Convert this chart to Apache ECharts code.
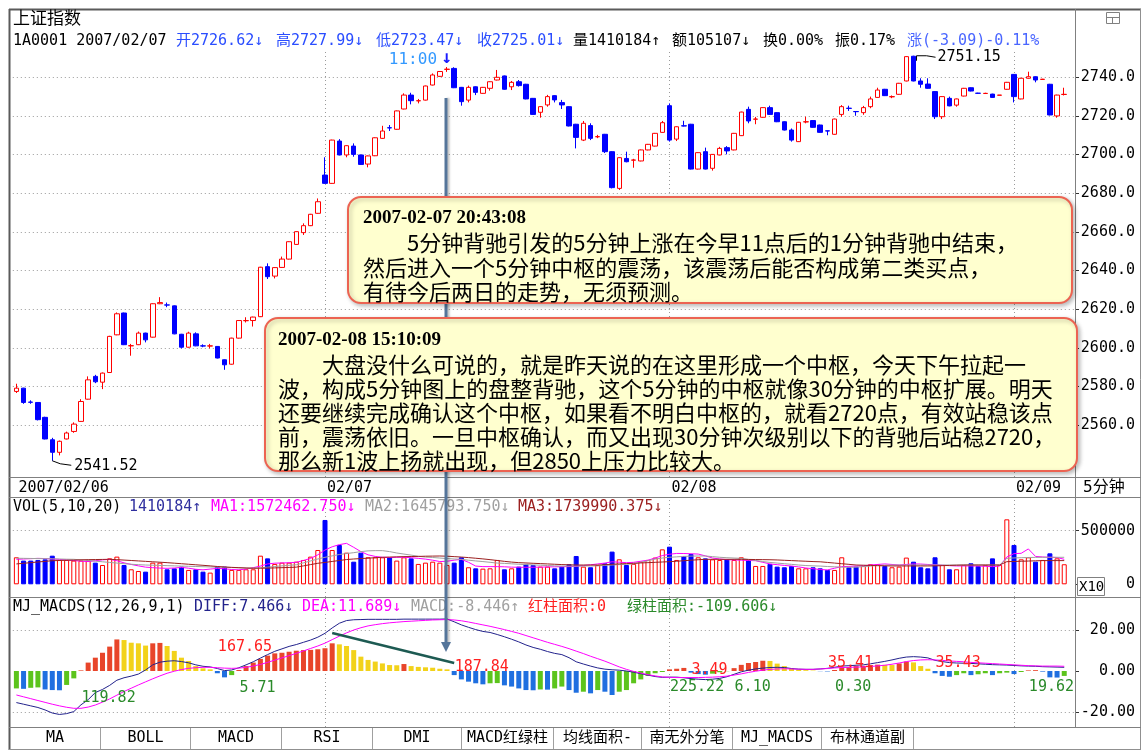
<!DOCTYPE html>
<html><head><meta charset="utf-8">
<script src="https://cdn.jsdelivr.net/npm/echarts@6/dist/echarts.min.js"></script>
<style>html,body{margin:0;padding:0;background:#fff;}#c{width:1146px;height:753px;}</style>
</head><body><div id="c"></div>
<script>
// ---------------- data ----------------
const days = ['02/06','02/07','02/08','02/09'];
const dayLabels = ['2007/02/06','02/07','02/08','02/09'];
const dayFirstBar = [5,0,0,0];      // first 5-min bar shown of each day
const dayBarCount = [43,48,48,8];   // bars shown of each day

const opens = [
2577.4,2579.1,2571.9,2571.7,2564.0,2552.4,2545.9,2552.8,2556.7,2561.9,
2573.4,2585.2,2582.2,2587.2,2606.7,2618.0,2601.0,2601.6,2607.6,2605.5,
2622.8,2622.2,2621.7,2607.0,2600.3,2607.2,2601.0,2600.9,2600.7,2593.8,
2591.5,2605.0,2614.0,2614.1,2616.1,2642.0,2637.1,2641.6,2645.9,2653.5,
2659.6,2663.2,2669.6,2689.4,2685.1,2707.0,2699.8,2704.4,2699.8,2695.1,
2699.4,2708.4,2713.9,2713.1,2723.6,2730.8,2727.8,2728.2,2736.0,2740.5,
2744.1,2744.6,2734.8,2728.2,2735.1,2731.7,2734.3,2738.6,2740.7,2735.1,
2737.7,2736.4,2729.1,2721.9,2725.7,2730.5,2726.9,2724.8,2715.7,2707.5,
2715.0,2709.2,2710.5,2701.5,2682.5,2698.0,2697.1,2696.7,2702.4,2704.4,
2711.5,2725.3,2708.0,2714.9,2715.7,2692.5,2701.5,2692.9,2699.8,2703.6,
2702.4,2709.8,2723.4,2718.3,2719.3,2724.3,2721.7,2717.0,2712.7,2706.7,
2716.9,2717.6,2715.3,2712.3,2710.5,2720.8,2724.0,2722.3,2721.7,2724.8,
2729.6,2733.8,2729.9,2731.2,2738.1,2750.9,2738.1,2736.5,2732.6,2719.6,
2729.1,2725.6,2730.3,2734.6,2731.8,2731.6,2731.3,2730.7,2733.8,2741.5,
2728.8,2739.5,2740.3,2738.9,2736.4,2720.0,2731.1];
const closes = [
2579.1,2571.7,2571.8,2562.8,2552.8,2545.9,2551.6,2555.9,2560.5,2572.2,
2583.4,2582.4,2586.9,2605.9,2617.6,2601.6,2601.1,2607.6,2604.1,2622.8,
2623.4,2622.1,2607.2,2600.3,2607.6,2601.0,2600.9,2601.0,2594.7,2591.2,
2605.0,2614.1,2614.1,2615.9,2641.7,2636.8,2641.5,2645.9,2654.9,2660.1,
2663.2,2669.1,2675.6,2685.1,2707.5,2699.8,2704.6,2700.1,2694.9,2699.3,
2708.7,2712.2,2713.8,2722.6,2730.8,2727.9,2727.9,2735.5,2741.2,2743.0,
2744.2,2734.6,2727.4,2734.8,2732.2,2734.8,2737.7,2740.0,2733.8,2737.4,
2735.7,2728.8,2720.8,2724.8,2730.0,2728.3,2725.7,2714.8,2708.9,2716.2,
2708.4,2709.3,2701.5,2682.9,2698.4,2696.3,2697.2,2702.4,2705.3,2711.0,
2716.5,2707.5,2714.4,2714.8,2692.5,2701.0,2692.5,2700.1,2703.2,2701.9,
2711.0,2722.0,2717.4,2718.4,2724.3,2720.8,2717.0,2712.7,2707.5,2716.7,
2717.0,2714.1,2711.5,2712.2,2718.4,2724.8,2723.9,2722.2,2724.3,2728.8,
2733.4,2730.5,2730.0,2736.9,2750.7,2738.1,2736.4,2734.3,2719.6,2730.0,
2725.2,2728.8,2734.3,2732.9,2731.7,2731.7,2729.6,2730.8,2737.4,2730.0,
2739.5,2740.3,2738.6,2739.0,2720.5,2730.8,2731.2];
const lows = [
2576.6,2571.0,2571.0,2562.4,2552.6,2541.52,2544.3,2552.6,2556.0,2561.7,
2573.2,2581.7,2578.6,2587.0,2606.5,2601.4,2595.9,2601.4,2602.8,2605.3,
2622.6,2621.0,2607.0,2599.7,2600.1,2600.8,2600.3,2599.7,2594.5,2588.6,
2591.3,2604.8,2613.1,2611.0,2615.9,2635.6,2635.9,2641.4,2645.7,2653.3,
2658.4,2663.0,2669.4,2684.9,2684.9,2699.6,2698.6,2698.9,2694.7,2693.4,
2699.2,2708.2,2712.2,2712.9,2723.4,2726.0,2726.5,2728.0,2735.8,2740.3,
2742.8,2734.4,2725.3,2727.0,2730.8,2731.5,2733.1,2738.4,2733.6,2733.4,
2735.2,2728.6,2720.6,2719.1,2724.8,2727.0,2723.6,2714.6,2703.2,2707.0,
2707.5,2708.5,2700.8,2682.5,2681.7,2696.0,2693.2,2696.5,2702.2,2704.2,
2711.3,2706.7,2707.0,2714.6,2692.3,2692.3,2692.3,2691.7,2699.6,2700.1,
2702.2,2709.6,2716.2,2715.7,2719.1,2720.6,2716.8,2712.5,2706.7,2706.5,
2716.2,2713.9,2711.3,2710.0,2710.3,2719.6,2722.6,2720.1,2720.6,2724.0,
2729.4,2730.3,2729.2,2731.0,2737.9,2737.9,2734.6,2734.1,2718.4,2718.4,
2725.0,2724.8,2730.1,2732.7,2731.4,2731.4,2729.4,2730.7,2733.6,2727.0,
2728.6,2739.3,2737.4,2738.7,2720.3,2719.1,2730.6];
const highs = [
2581.4,2579.3,2572.8,2571.9,2564.3,2553.4,2552.0,2556.6,2561.4,2573.4,
2585.2,2586.0,2587.2,2606.2,2618.3,2618.2,2602.0,2608.4,2607.8,2623.0,
2626.2,2623.4,2621.9,2607.2,2608.3,2608.0,2601.8,2602.0,2600.9,2594.0,
2605.2,2614.3,2615.8,2616.1,2641.9,2643.7,2641.7,2647.2,2655.1,2660.3,
2664.4,2669.3,2677.3,2698.6,2707.7,2708.0,2704.8,2705.8,2700.0,2699.5,
2708.9,2714.9,2715.3,2722.8,2731.7,2732.0,2728.8,2735.7,2742.0,2743.2,
2745.3,2745.2,2735.0,2735.7,2735.3,2735.0,2737.9,2743.8,2740.9,2738.1,
2738.6,2736.6,2729.3,2725.0,2730.9,2730.7,2728.3,2725.0,2715.9,2717.4,
2716.2,2710.2,2710.7,2701.7,2698.6,2701.5,2697.8,2702.6,2705.5,2711.2,
2717.4,2726.5,2714.6,2717.5,2715.9,2701.2,2703.6,2700.3,2704.0,2704.4,
2711.2,2722.2,2724.8,2719.5,2724.5,2725.3,2721.9,2717.2,2713.5,2716.9,
2719.6,2717.8,2715.5,2712.4,2718.6,2725.6,2725.3,2722.4,2725.2,2730.0,
2734.6,2734.0,2730.6,2737.1,2750.9,2751.15,2739.5,2739.5,2732.8,2730.2,
2730.0,2729.0,2734.5,2734.8,2732.0,2732.0,2731.5,2730.8,2737.6,2741.7,
2739.7,2742.9,2740.5,2739.2,2736.6,2731.0,2734.6];

// volume, in thousands
const volume = [
252,221,221,227,233,267,227,227,221,221,
221,202,180,242,258,180,140,124,118,202,
202,140,149,165,134,140,118,109,165,165,
134,134,140,140,267,242,190,202,202,211,
227,258,320,600,320,367,295,211,295,252,
252,252,252,221,252,242,190,202,211,202,
180,202,252,159,149,146,149,227,140,149,
165,190,180,165,165,149,165,187,264,165,
159,180,196,305,233,180,190,211,227,249,
326,351,227,264,283,252,242,233,227,233,
227,252,227,171,171,190,165,159,171,149,
149,159,149,134,134,252,159,165,171,187,
187,171,159,165,249,211,159,149,252,180,
140,140,180,196,171,180,242,180,606,367,
233,252,211,227,289,242,187];
const volMa5 = [
233,236,239,242,240,236,232,228,221,216,
212,220,228,233,220,200,185,172,160,155,
151,149,152,158,150,140,135,142,148,145,
138,135,142,155,170,190,197,199,201,205,
222,242,275,320,350,370,382,345,305,275,
260,252,250,252,252,248,242,235,225,212,
215,225,233,205,170,165,165,165,163,160,
159,159,159,160,162,163,164,165,168,175,
182,190,198,210,206,202,205,215,225,245,
268,280,288,287,285,282,265,245,236,230,
227,225,222,220,205,190,183,176,170,162,
152,145,138,134,150,165,167,170,172,180,
185,190,185,180,185,190,189,185,181,178,
174,171,171,171,170,168,165,170,255,286,
289,330,260,255,252,250,233];
const volMa10 = [
243,242,241,240,239,238,236,234,233,228,
222,216,210,204,198,192,187,183,180,178,
176,174,172,170,168,166,164,162,160,158,
156,154,152,150,154,160,166,172,177,182,
200,218,236,252,265,278,287,295,305,312,
314,314,305,292,282,272,262,254,250,245,
240,236,233,225,218,212,205,198,195,191,
187,184,181,178,175,172,170,170,170,171,
171,172,176,180,184,187,190,205,220,235,
245,252,256,260,263,264,264,258,252,248,
245,242,232,222,212,204,198,192,186,180,
175,172,170,166,163,160,159,160,165,170,
175,178,180,180,180,180,180,180,180,180,
180,180,180,180,180,180,180,180,242,246,
248,250,251,252,252,252,252];
const volMa20 = [
190,196,202,208,214,220,222,224,226,228,
230,231,232,233,230,226,222,218,214,210,
206,202,197,192,187,182,177,172,166,162,
158,155,152,150,150,151,153,155,157,160,
172,184,196,204,213,222,231,236,240,244,
248,252,254,256,258,259,260,262,263,264,
262,258,254,249,243,237,230,222,214,207,
202,199,196,193,190,187,184,182,180,180,
180,180,183,187,190,193,196,199,202,205,
208,211,215,220,225,229,233,233,233,233,
233,233,232,231,230,229,227,224,221,218,
215,212,210,204,198,192,186,180,178,176,
174,172,171,171,171,171,171,171,172,174,
176,178,180,180,180,180,180,180,211,213,
215,217,219,221,221,221,221];

const macdBar = [
-8.5,-8.7,-8.2,-8.0,-9.0,-9.3,-9.4,-6.8,-3.6,0.3,
4.1,6.5,8.9,11.9,15.4,15.1,13.8,13.5,12.4,13.5,
13.7,12.2,9.8,6.5,4.9,2.4,1.3,0.8,-1.1,-3.1,
-2.0,0.5,2.4,4.1,5.9,7.5,8.6,8.9,9.4,9.9,
10.2,10.3,10.6,11.1,13.5,13.0,12.2,10.2,7.0,5.4,
4.6,3.7,2.9,2.8,3.4,2.4,2.0,1.8,1.6,1.1,
0.8,-2.0,-4.1,-5.2,-6.0,-6.5,-6.0,-5.9,-7.0,-7.6,
-8.5,-9.3,-9.4,-9.0,-9.1,-8.5,-7.6,-9.3,-10.6,-10.1,
-10.9,-9.3,-10.1,-11.7,-10.1,-9.3,-6.0,-4.1,-2.4,-1.1,
-0.5,0.8,1.1,1.5,-0.8,-1.5,-1.8,-1.3,-0.6,-0.1,
1.4,3.0,3.9,4.4,5.0,4.9,3.6,2.4,1.2,0.6,
0.4,0.2,-0.1,-0.2,0.5,1.8,1.9,2.4,2.5,2.9,
3.1,3.0,2.9,3.7,4.6,4.2,2.4,1.1,-1.1,-2.4,
-2.8,-2.0,-1.1,-2.0,-1.6,-1.1,-2.0,-1.1,-0.8,-1.5,
-0.5,0.3,0.4,-0.3,-3.1,-3.2,-2.4];
const diff = [
-15.4,-16.2,-17.0,-17.8,-19.0,-20.5,-21.2,-20.8,-19.8,-16.5,
-14.0,-10.5,-9.0,-7.0,-4.5,-3.3,-2.5,-1.5,0.5,3.0,
4.3,4.8,5.0,4.6,4.0,3.0,2.3,2.0,1.2,0.2,
0.5,1.6,3.0,4.5,6.3,8.0,9.6,10.8,12.0,12.9,
14.0,15.1,16.5,18.4,21.0,23.3,24.6,25.0,25.1,25.2,
25.2,25.2,25.2,25.2,25.3,25.3,25.3,25.3,25.3,25.3,
25.4,24.0,22.5,21.3,20.2,19.3,18.8,17.8,16.7,15.5,
14.2,12.7,11.5,10.6,9.5,8.6,8.0,6.5,4.5,3.4,
2.4,1.5,0.9,0.6,0.4,0.0,-0.6,-1.3,-2.0,-2.7,
-3.1,-3.0,-3.0,-3.3,-3.7,-4.0,-4.2,-4.0,-3.6,-2.8,
-1.6,-0.4,0.4,1.0,1.4,1.7,1.8,1.7,1.2,0.9,
0.8,0.8,1.0,1.3,1.8,2.4,2.6,2.8,3.0,3.5,
4.1,4.7,5.4,6.2,6.8,7.0,6.8,6.4,5.2,4.6,
4.1,3.9,3.8,3.7,3.5,3.3,3.1,3.0,2.9,2.7,
2.5,2.4,2.3,2.1,2.0,1.9,1.8];
const dea = [
-11.7,-12.6,-13.5,-14.4,-15.3,-16.2,-17.0,-17.7,-18.2,-18.2,
-17.6,-16.6,-15.2,-13.6,-11.8,-10.0,-8.4,-6.8,-5.3,-3.8,
-2.4,-1.1,-0.1,0.7,1.3,1.6,1.8,1.8,1.6,1.4,
1.3,1.4,1.8,2.4,3.2,4.2,5.3,6.4,7.5,8.6,
9.8,11.0,12.2,13.6,15.3,17.0,18.6,20.0,21.1,22.0,
22.6,23.1,23.5,23.8,24.1,24.3,24.5,24.7,24.9,25.0,
25.1,24.9,24.5,23.9,23.2,22.5,21.8,21.0,20.2,19.3,
18.4,17.3,16.2,15.1,14.0,13.0,12.0,10.9,9.7,8.5,
7.2,6.0,4.8,3.4,2.0,0.8,-0.2,-1.0,-1.8,-2.4,
-2.9,-3.1,-3.2,-3.2,-3.2,-3.2,-3.1,-3.0,-2.8,-2.5,
-2.0,-1.4,-0.7,-0.1,0.4,0.8,1.0,1.1,1.0,0.9,
0.8,0.8,1.0,1.2,1.5,1.7,1.8,1.9,2.0,2.2,
2.5,2.8,3.3,3.9,4.6,5.1,5.4,5.5,5.4,5.2,
4.9,4.7,4.5,4.2,4.0,3.8,3.6,3.4,3.2,3.0,
2.8,2.6,2.5,2.4,2.4,2.4,2.3];

const priceTicks = [2560,2580,2600,2620,2640,2660,2680,2700,2720,2740];
const volTicks = [0,500];
const macdTicks = [-20,0,20];

// MACD area-sum labels: [bar index, value, text, red?]
const macdNotes = [
 [9,-13.2,'119.82',false],[28,11.7,'167.65',true],[31,-8.3,'5.71',false],
 [61,2.0,'187.84',true],[91,-7.8,'225.22',false],[94,0.5,'3.49',true],
 [100,-7.8,'6.10',false],[113,3.9,'35.41',true],[114,-7.8,'0.30',false],
 [128,3.9,'35.43',true],[141,-7.8,'19.62',false]];

// ---------------- categories ----------------
function sessionTimes(){
  const t=[]; const f=m=>String(Math.floor(m/60)).padStart(2,'0')+':'+String(m%60).padStart(2,'0');
  for(let m=9*60+35;m<=11*60+30;m+=5)t.push(f(m));
  for(let m=13*60+5;m<=15*60;m+=5)t.push(f(m));
  return t;
}
const times = sessionTimes();
const categories=[]; const dayStart=[];
days.forEach((d,k)=>{dayStart.push(categories.length);
  for(let j=0;j<dayBarCount[k];j++)categories.push(d+' '+times[dayFirstBar[k]+j]);});
categories.push(' ');

// ---------------- styles ----------------
const MONO='"DejaVu Sans Mono","Noto Sans CJK SC",monospace';
const CJK='"Noto Sans CJK SC","DejaVu Sans",sans-serif';
const RED='#ff0000', BLUE='#0000ff';
const M_RED='#e8452a', M_YEL='#f2d21a', M_BLU='#1f6fe0', M_GRN='#5cc41c';
const dotted={color:'#9a9a9a',width:1,type:[1,3]};

const candleData = opens.map((o,i)=>[o,closes[i],lows[i],highs[i]]);
const volData = volume.map((v,i)=>({value:v,itemStyle: closes[i]>=opens[i]
   ? {color:'#ffffff',borderColor:RED,borderWidth:1}
   : {color:BLUE,borderColor:BLUE,borderWidth:1}}));
const macdData = macdBar.map((v,i)=>{
  const p = i>0?macdBar[i-1]:null; let c;
  if(v>=0) c=(p===null||p<0||v>=p)?M_RED:M_YEL;
  else c=(p===null)?M_GRN:((p>=0||v<p)?M_BLU:M_GRN);
  return {value:v,itemStyle:{color:c}};
});
const dayLines = dayStart.slice(1).map(i=>({xAxis:i}));

const GL=12.8, GR=71;
const option={
  animation:false, backgroundColor:'#ffffff',
  grid:[{left:GL,right:GR,top:50,height:427},{left:GL,right:GR,top:497,height:100},{left:GL,right:GR,top:597,height:130}],
  xAxis:[0,1,2].map(g=>({type:'category',gridIndex:g,data:categories,boundaryGap:true,
    axisLine:{show:false},axisTick:{show:false},splitLine:{show:false},
    axisLabel: g===0?{show:true,interval:(i)=>dayStart.indexOf(i)>=0,
      formatter:(v,i)=>dayLabels[dayStart.indexOf(i)]||'',align:'left',verticalAlign:'top',
      margin:4,padding:[0,0,0,2],fontFamily:MONO,fontSize:15,color:'#000'}:{show:false}})),
  yAxis:[
    {type:'value',gridIndex:0,position:'right',min:2533.12,max:2754.13,axisLine:{show:false},splitLine:{show:false},
     axisTick:{show:true,length:4,customValues:priceTicks,lineStyle:{color:'#333'}},
     axisLabel:{customValues:priceTicks,formatter:v=>v.toFixed(1),align:'right',margin:60,fontFamily:MONO,fontSize:15,color:'#000'}},
    {type:'value',gridIndex:1,position:'right',min:-118.47,max:814.3,axisLine:{show:false},splitLine:{show:false},
     axisTick:{show:true,length:4,customValues:volTicks,lineStyle:{color:'#333'}},
     axisLabel:{customValues:volTicks,formatter:v=>String(Math.round(v*1000)),align:'right',margin:60,fontFamily:MONO,fontSize:15,color:'#000'}},
    {type:'value',gridIndex:2,position:'right',min:-27.32,max:36.1,axisLine:{show:false},splitLine:{show:false},
     axisTick:{show:true,length:4,customValues:macdTicks,lineStyle:{color:'#333'}},
     axisLabel:{customValues:macdTicks,formatter:v=>v.toFixed(2),align:'right',margin:60,fontFamily:MONO,fontSize:15,color:'#000'}}
  ],
  series:[
    {type:'candlestick',xAxisIndex:0,yAxisIndex:0,data:candleData,barWidth:5,
     itemStyle:{color:'#ffffff',color0:BLUE,borderColor:RED,borderColor0:BLUE,borderWidth:1},
     markLine:{silent:true,z:1,symbol:['none','none'],label:{show:false},lineStyle:dotted,
       data:priceTicks.map(v=>({yAxis:v})).concat(dayLines)}},
    {type:'bar',xAxisIndex:1,yAxisIndex:1,data:volData,barWidth:5,
     markLine:{silent:true,z:1,symbol:['none','none'],label:{show:false},lineStyle:dotted,
       data:[{yAxis:500}].concat(dayLines)}},
    {type:'line',xAxisIndex:1,yAxisIndex:1,data:volMa5,symbol:'none',lineStyle:{color:'#ff00ff',width:1}},
    {type:'line',xAxisIndex:1,yAxisIndex:1,data:volMa10,symbol:'none',lineStyle:{color:'#a0a0a0',width:1}},
    {type:'line',xAxisIndex:1,yAxisIndex:1,data:volMa20,symbol:'none',lineStyle:{color:'#9b2020',width:1}},
    {type:'bar',xAxisIndex:2,yAxisIndex:2,data:macdData,barWidth:5,
     markLine:{silent:true,z:1,symbol:['none','none'],label:{show:false},lineStyle:dotted,
       data:[{yAxis:20},{yAxis:-20}].concat(dayLines)}},
    {type:'line',xAxisIndex:2,yAxisIndex:2,data:diff,symbol:'none',lineStyle:{color:'#22228c',width:1}},
    {type:'line',xAxisIndex:2,yAxisIndex:2,data:dea,symbol:'none',lineStyle:{color:'#ff00ff',width:1},
     markLine:{silent:true,symbol:['none','none'],label:{show:false},lineStyle:{color:'#1d5a52',width:2.5,type:'solid'},
       data:[[{coord:[44,18.5]},{coord:[61,3.9]}]]},
     markPoint:{silent:true,symbol:'circle',symbolSize:1,itemStyle:{color:'rgba(0,0,0,0)'},
       data:macdNotes.map(n=>({coord:[n[0],n[1]],label:{show:true,position:'right',distance:0,formatter:n[2],
         color:n[3]?'#ff2020':'#2a8a2a',fontFamily:MONO,fontSize:15}}))}}
  ]
};
const chart=echarts.init(document.getElementById('c'),null,{renderer:'canvas',width:1146,height:753});
chart.setOption(option);

// ---------------- graphics ----------------
function T(x,y,s,fill,font,z,align){return {type:'text',x:x,y:y,z:z||40,silent:true,
  style:{text:s,fill:fill,font:font,align:align||'left',verticalAlign:'middle',textAlign:align||'left',textVerticalAlign:'middle'}};}
function L(x1,y1,x2,y2,c,w,z){return {type:'line',silent:true,z:z||30,shape:{x1,y1,x2,y2},style:{stroke:c,lineWidth:w||1}};}
const F15='15px '+MONO, F16C='16px '+CJK;
const g=[];
// frame
g.push(L(9,9.5,1141,9.5,'#5a5a5a',2), L(9.5,9,9.5,750,'#5a5a5a',2), L(1140.5,9,1140.5,750,'#909090'),
  L(1075.5,9,1075.5,727,'#808080'), L(9,477.5,1141,477.5,'#808080'), L(9,497.5,1141,497.5,'#808080'),
  L(9,597.5,1141,597.5,'#808080'), L(9,727.5,1141,727.5,'#808080'), L(9,749.5,1141,749.5,'#909090'));
// top-right icon
g.push({type:'rect',silent:true,z:30,shape:{x:1106.5,y:12.5,width:13,height:11},style:{fill:'#fff',stroke:'#808080',lineWidth:1}},
  L(1106.5,17.5,1119.5,17.5,'#808080'), L(1112.5,17.5,1112.5,23.5,'#808080'));
// header rows
g.push(T(13,18,'上证指数','#000','17px '+CJK));
const HB='#2a4dff';
g.push(T(13,41,'1A0001 2007/02/07','#000',F15), T(176,41,'开2726.62↓',HB,F15), T(276,41,'高2727.99↓',HB,F15),
  T(376,41,'低2723.47↓',HB,F15), T(477,41,'收2725.01↓',HB,F15), T(573,41,'量1410184↑','#000',F15),
  T(672,41,'额105107↓','#000',F15), T(763,41,'换0.00%','#000',F15), T(835,41,'振0.17%','#000',F15),
  T(907,41,'涨(-3.09)-0.11%','#4a66ff',F15));
// right column
g.push(T(1083,488,'5分钟','#000','16px '+MONO));
g.push({type:'rect',silent:true,z:30,shape:{x:1077.5,y:577.5,width:27,height:18},style:{fill:'#fff',stroke:'#808080',lineWidth:1}},
  T(1079,587,'X10','#000','14px '+MONO,31));
// VOL header
g.push(T(13,507,'VOL(5,10,20)','#000',F15), T(129,507,'1410184↑','#2f2f9f',F15),
  T(211,507,'MA1:1572462.750↓','#ff00ff',F15), T(365,507,'MA2:1645793.750↓','#a0a0a0',F15),
  T(518,507,'MA3:1739990.375↓','#9b2020',F15));
// MACD header
g.push(T(13,607,'MJ_MACDS(12,26,9,1)','#000',F15), T(194,607,'DIFF:7.466↓','#22228c',F15),
  T(302,607,'DEA:11.689↓','#ff00ff',F15), T(411,607,'MACD:-8.446↑','#a0a0a0',F15),
  T(528,607,'红柱面积:0','#ff2020',F15), T(627,607,'绿柱面积:-109.606↓','#2a8a2a',F15));
// tab bar
const tabEdges=[9.5,100.5,190.5,281.5,372.5,461.5,553.5,641.5,732.5,821.5,913.5];
const tabNames=['MA','BOLL','MACD','RSI','DMI','MACD红绿柱','均线面积-','南无外分笔','MJ_MACDS','布林通道副'];
tabNames.forEach((n,k)=>{g.push(T((tabEdges[k]+tabEdges[k+1])/2,738.5,n,'#000',F15,40,'center'));
  g.push(L(tabEdges[k+1],728,tabEdges[k+1],749,'#a0a0a0'));});
// annotation boxes
const BOXF='22px '+CJK, DATEF='bold 19px "Liberation Serif",serif';
function box(x,y,w,h){return {type:'rect',silent:true,z:60,shape:{x:x,y:y,width:w,height:h,r:13},
  style:{fill:'#ffffcf',stroke:'#ec6352',lineWidth:2,shadowBlur:4,shadowColor:'rgba(0,0,0,0.25)',shadowOffsetX:2,shadowOffsetY:2}};}
g.push(box(348,197,724,106));
g.push(T(363,218,'2007-02-07 20:43:08','#000',DATEF,61),
  T(363,243,'　　5分钟背驰引发的5分钟上涨在今早11点后的1分钟背驰中结束，','#000',BOXF,61),
  T(363,268,'然后进入一个5分钟中枢的震荡，该震荡后能否构成第二类买点，','#000',BOXF,61),
  T(363,292,'有待今后两日的走势，无须预测。','#000',BOXF,61));
g.push(box(265,318,812,153));
g.push(T(278,340,'2007-02-08 15:10:09','#000',DATEF,61),
  T(278,365,'　　大盘没什么可说的，就是昨天说的在这里形成一个中枢，今天下午拉起一','#000',BOXF,61),
  T(278,389,'波，构成5分钟图上的盘整背驰，这个5分钟的中枢就像30分钟的中枢扩展。明天','#000',BOXF,61),
  T(278,413,'还要继续完成确认这个中枢，如果看不明白中枢的，就看2720点，有效站稳该点','#000',BOXF,61),
  T(278,437,'前，震荡依旧。一旦中枢确认，而又出现30分钟次级别以下的背驰后站稳2720，','#000',BOXF,61),
  T(278,461,'那么新1波上扬就出现，但2850上压力比较大。','#000',BOXF,61));

// data-anchored annotations
const P=(k,i,v)=>chart.convertToPixel({xAxisIndex:k,yAxisIndex:k},[i,v]);
const cur=60;
const a=P(0,cur,2729.3), b=P(2,cur,9.3);
const ax=a[0]-1;
g.push({type:'line',silent:true,z:50,shape:{x1:ax,y1:a[1],x2:ax,y2:b[1]-8},
  style:{stroke:'#55759a',lineWidth:3,shadowBlur:2,shadowOffsetX:2,shadowColor:'rgba(0,0,0,0.25)'}});
g.push({type:'polygon',silent:true,z:50,shape:{points:[[ax-5,b[1]-10],[ax+5,b[1]-10],[ax,b[1]]]},style:{fill:'#55759a'}});
const h=P(0,cur,highs[cur]);
g.push(T(h[0]-10,h[1]-7,'11:00','#3399ff','16px '+MONO,45,'right'));
g.push(T(h[0],h[1]-9,'↓','#1a1aff','bold 18px '+MONO,45,'center'));
const hp=P(0,125,highs[125]);
g.push({type:'polyline',silent:true,z:45,shape:{points:[[hp[0]+3,hp[1]+5],[hp[0]+3,hp[1]],[hp[0]+13,hp[1]],[hp[0]+22,hp[1]+1.5]]},style:{stroke:'#000',lineWidth:1,fill:null}});
g.push(T(hp[0]+24,hp[1]+1,'2751.15','#000',F15,45));
const lp=P(0,5,lows[5]);
g.push({type:'polyline',silent:true,z:45,shape:{points:[[lp[0],lp[1]],[lp[0]+8,lp[1]+3],[lp[0]+19,lp[1]+4.5]]},style:{stroke:'#000',lineWidth:1,fill:null}});
g.push(T(lp[0]+22,lp[1]+5,'2541.52','#000',F15,45));

chart.setOption({graphic:g});
</script></body></html>
